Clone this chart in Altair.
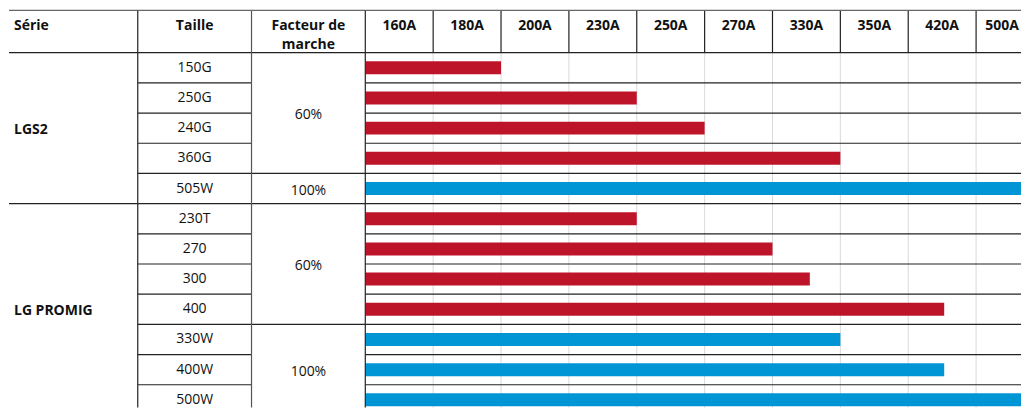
import altair as alt
import pandas as pd

# ---------------- data ----------------
series_names = ["LGS2", "LG PROMIG"]
series_counts = [5, 7]
sizes = ["150G", "250G", "240G", "360G", "505W",
         "230T", "270", "300", "400", "330W", "400W", "500W"]
duty_cycle = ["60%", "60%", "60%", "60%", "100%",
              "60%", "60%", "60%", "60%", "100%", "100%", "100%"]
# bar length, in number of current columns covered
bar_len = [2, 4, 5, 7, 10, 4, 6, 6.55, 8.53, 7, 8.53, 10]
current_cols = ["160A", "180A", "200A", "230A", "250A",
                "270A", "330A", "350A", "420A", "500A"]
header_serie = "Série"
header_taille = "Taille"
header_facteur = "Facteur de\nmarche"

# ---------------- style / layout ----------------
RED = "#BE1429"
BLUE = "#0096D6"
DARK = "#222222"
GRID = "#D9D9D9"
FONT = "Open Sans"
FS = 14

ROW = 30.25                 # px per row
H = 400
Y_TOP = -1.466
Y_BOT = Y_TOP + H / ROW
HDR_TOP = -1.4
HDR_TEXT = -0.76
W_SERIE, W_TAILLE, W_FACT = 129, 114, 114
W_BARS = 1014 - W_SERIE - W_TAILLE - W_FACT   # page body is 1014 px wide
COL_PX = 68
X_MAX = W_BARS / COL_PX
N = len(sizes)
LW = 1.2

yscale = alt.Scale(domain=[Y_TOP, Y_BOT], reverse=True, nice=False, zero=False, padding=0)


def xs(dom):
    return alt.Scale(domain=dom, nice=False, zero=False, padding=0)


def hrules(ys, xdom, color=DARK, width=LW):
    df = pd.DataFrame({"y": ys, "x": [xdom[0]] * len(ys), "x2": [xdom[1]] * len(ys)})
    return alt.Chart(df).mark_rule(color=color, strokeWidth=width).encode(
        x=alt.X("x:Q", scale=xs(xdom), axis=None),
        x2="x2:Q",
        y=alt.Y("y:Q", scale=yscale, axis=None),
    )


def vrules(xvals, y0, y1, xdom, color=DARK, width=LW):
    df = pd.DataFrame({"x": xvals, "y": [y0] * len(xvals), "y2": [y1] * len(xvals)})
    return alt.Chart(df).mark_rule(color=color, strokeWidth=width).encode(
        x=alt.X("x:Q", scale=xs(xdom), axis=None),
        y=alt.Y("y:Q", scale=yscale, axis=None),
        y2="y2:Q",
    )


def texts(df, xdom, **kw):
    return alt.Chart(df).mark_text(font=FONT, fontSize=FS, color="#111111", **kw).encode(
        x=alt.X("x:Q", scale=xs(xdom), axis=None),
        y=alt.Y("y:Q", scale=yscale, axis=None),
        text="t:N",
    )


# row boundaries
series_start = [sum(series_counts[:i]) for i in range(len(series_counts))]
series_bounds = [0] + [s + c for s, c in zip(series_start, series_counts)]

# duty-cycle groups (runs inside each series)
groups = []
for s, c in zip(series_start, series_counts):
    i = s
    while i < s + c:
        j = i
        while j < s + c and duty_cycle[j] == duty_cycle[i]:
            j += 1
        groups.append((i, j, duty_cycle[i]))
        i = j
fact_bounds = sorted({0} | {g[0] for g in groups} | {g[1] for g in groups})

all_rows = list(range(N + 1))
D01 = [0, 1]

# ---------------- Série panel ----------------
serie = alt.layer(
    hrules([HDR_TOP], D01, color="#666666", width=1.3),
    hrules(series_bounds, D01),
    texts(pd.DataFrame({"x": [0], "y": [HDR_TEXT], "t": [header_serie]}), D01,
          align="left", baseline="alphabetic", fontWeight="bold", dx=5),
    texts(pd.DataFrame({"x": [0] * len(series_names),
                        "y": [s + c / 2 for s, c in zip(series_start, series_counts)],
                        "t": series_names}), D01,
          align="left", baseline="middle", fontWeight="bold", dx=5, dy=2),
).properties(width=W_SERIE, height=H)

# ---------------- Taille panel ----------------
taille = alt.layer(
    hrules([HDR_TOP], D01, color="#666666", width=1.3),
    hrules(all_rows, D01),
    vrules([0], HDR_TOP, Y_BOT, D01),
    texts(pd.DataFrame({"x": [0.5], "y": [HDR_TEXT], "t": [header_taille]}), D01,
          align="center", baseline="alphabetic", fontWeight="bold"),
    texts(pd.DataFrame({"x": [0.5] * N, "y": [i + 0.5 for i in range(N)], "t": sizes}), D01,
          align="center", baseline="middle"),
).properties(width=W_TAILLE, height=H)

# ---------------- Facteur panel ----------------
facteur = alt.layer(
    hrules([HDR_TOP], D01, color="#666666", width=1.3),
    hrules(fact_bounds, D01),
    vrules([0], HDR_TOP, Y_BOT, D01, color="#555555"),
    texts(pd.DataFrame({"x": [0.5], "y": [HDR_TEXT], "t": [header_facteur]}), D01,
          align="center", baseline="alphabetic", fontWeight="bold", lineBreak="\n", lineHeight=19),
    texts(pd.DataFrame({"x": [0.5] * len(groups),
                        "y": [(a + b) / 2 for a, b, _ in groups],
                        "t": [g for _, _, g in groups]}), D01,
          align="center", baseline="middle", dy=2),
).properties(width=W_FACT, height=H)

# ---------------- Bars panel ----------------
DB = [0, X_MAX]
bars_df = pd.DataFrame({"size": sizes, "duty": duty_cycle, "len": bar_len,
                        "start": [0] * N, "y": [i + 0.5 for i in range(N)]})
col_idx = list(range(1, len(current_cols)))
# keep header labels inside the visible part of the table
label_x = [min(i + 0.5, X_MAX - 19 / COL_PX) for i in range(len(current_cols))]
bars_panel = alt.layer(
    vrules(col_idx, 0, Y_BOT, DB, color=GRID, width=1),
    vrules(col_idx, HDR_TOP, 0, DB),
    alt.Chart(bars_df).mark_bar(height=13, clip=True).encode(
        x=alt.X("start:Q", scale=xs(DB), axis=None),
        x2="len:Q",
        y=alt.Y("y:Q", scale=yscale, axis=None),
        color=alt.Color("duty:N", scale=alt.Scale(domain=["60%", "100%"], range=[RED, BLUE]),
                        legend=None),
    ),
    hrules([HDR_TOP], DB, color="#666666", width=1.3),
    hrules(all_rows, DB),
    vrules([0], HDR_TOP, Y_BOT, DB),
    texts(pd.DataFrame({"x": label_x,
                        "y": [HDR_TEXT] * len(current_cols), "t": current_cols}), DB,
          align="center", baseline="alphabetic", fontWeight="bold"),
).properties(width=W_BARS, height=H)

chart = alt.hconcat(serie, taille, facteur, bars_panel, spacing=0, bounds="flush").properties(
    padding=0
).configure_view(stroke=None)

chart.save("out.html", embed_options={"renderer": "svg", "actions": False})
